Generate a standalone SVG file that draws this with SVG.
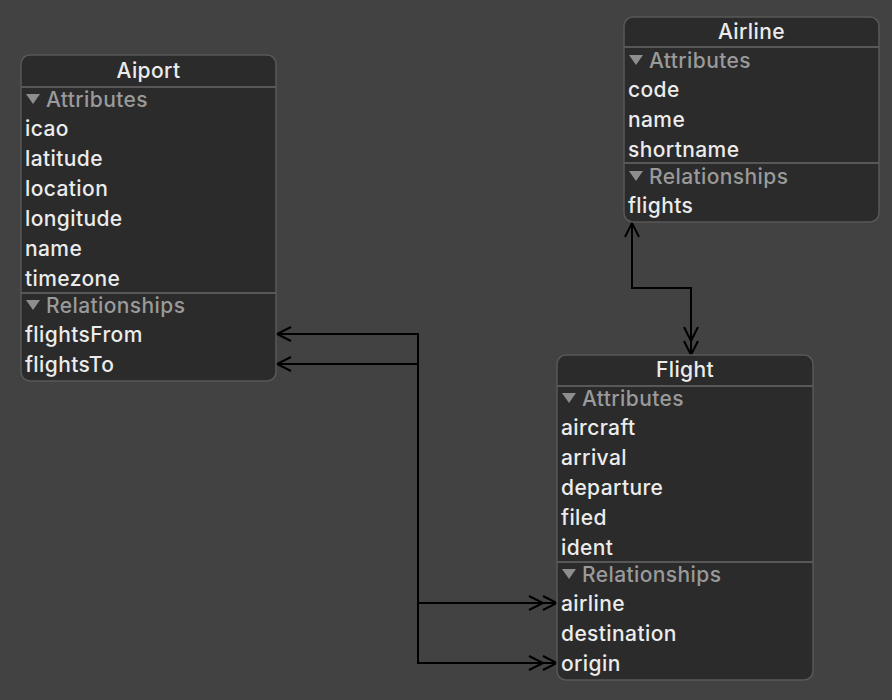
<svg xmlns="http://www.w3.org/2000/svg" width="892" height="700" viewBox="0 0 892 700">
<style>
.box{fill:#2b2b2b;stroke:#585858;stroke-width:1.5}
.sep{stroke:#585858;stroke-width:2}
.t{font-family:Inter,"Open Sans",sans-serif;font-size:21px;letter-spacing:0.4px;font-weight:500;fill:#ececec}
.h{font-family:Inter,"Open Sans",sans-serif;font-size:21px;letter-spacing:0.4px;font-weight:500;fill:#9a9a9a}
.tri{fill:#8e8e8e}
.ti{font-family:Inter,"Open Sans",sans-serif;font-size:21px;letter-spacing:0.4px;font-weight:500;fill:#ececec;text-anchor:middle}
.c{fill:none;stroke:#000;stroke-width:2}
</style>
<defs>
<path id="disc" class="tri" d="M0,0 H14 L7,10 Z"/>
<marker id="one" viewBox="0 0 20 16" refX="15" refY="8" markerWidth="20" markerHeight="16" markerUnits="userSpaceOnUse" orient="auto-start-reverse">
<path d="M1,1 L15,8 L1,15" fill="none" stroke="#000" stroke-width="2"/>
</marker>
<marker id="two" viewBox="0 0 30 16" refX="29" refY="8" markerWidth="30" markerHeight="16" markerUnits="userSpaceOnUse" orient="auto">
<path d="M1,1 L15,8 L1,15 M15,1 L29,8 L15,15" fill="none" stroke="#000" stroke-width="2"/>
</marker>
</defs>
<rect width="892" height="700" fill="#424242"/>
<g id="connectors">
<path class="c" d="M632,223 V288 H691 V355" marker-start="url(#one)" marker-end="url(#two)"/>
<path class="c" d="M277,334 H418 V663 H557" marker-start="url(#one)" marker-end="url(#two)"/>
<path class="c" d="M277,364 H418 V603 H557" marker-start="url(#one)" marker-end="url(#two)"/>
</g>
<g id="airport">
<rect class="box" x="21" y="55" width="255" height="326" rx="9"/>
<line class="sep" x1="21" y1="87" x2="276" y2="87"/>
<line class="sep" x1="21" y1="293" x2="276" y2="293"/>
<text class="ti" x="148.5" y="78">Aiport</text>
<use href="#disc" x="26" y="94"/>
<text class="h" x="46" y="107">Attributes</text>
<text class="t" x="25" y="136">icao</text>
<text class="t" x="25" y="166">latitude</text>
<text class="t" x="25" y="196">location</text>
<text class="t" x="25" y="226">longitude</text>
<text class="t" x="25" y="256">name</text>
<text class="t" x="25" y="286">timezone</text>
<use href="#disc" x="26" y="300"/>
<text class="h" x="46" y="313">Relationships</text>
<text class="t" x="25" y="342">flightsFrom</text>
<text class="t" x="25" y="372">flightsTo</text>
</g>
<g id="airline">
<rect class="box" x="624" y="17" width="255" height="205" rx="9"/>
<line class="sep" x1="624" y1="47" x2="879" y2="47"/>
<line class="sep" x1="624" y1="163" x2="879" y2="163"/>
<text class="ti" x="751.5" y="39">Airline</text>
<use href="#disc" x="629" y="55"/>
<text class="h" x="649" y="68">Attributes</text>
<text class="t" x="628" y="97">code</text>
<text class="t" x="628" y="127">name</text>
<text class="t" x="628" y="157">shortname</text>
<use href="#disc" x="629" y="171"/>
<text class="h" x="649" y="184">Relationships</text>
<text class="t" x="628" y="213">flights</text>
</g>
<g id="flight">
<rect class="box" x="557" y="355" width="256" height="325" rx="9"/>
<line class="sep" x1="557" y1="386" x2="813" y2="386"/>
<line class="sep" x1="557" y1="562" x2="813" y2="562"/>
<text class="ti" x="685" y="377">Flight</text>
<use href="#disc" x="562" y="393"/>
<text class="h" x="582" y="406">Attributes</text>
<text class="t" x="561" y="435">aircraft</text>
<text class="t" x="561" y="465">arrival</text>
<text class="t" x="561" y="495">departure</text>
<text class="t" x="561" y="525">filed</text>
<text class="t" x="561" y="555">ident</text>
<use href="#disc" x="562" y="569"/>
<text class="h" x="582" y="582">Relationships</text>
<text class="t" x="561" y="611">airline</text>
<text class="t" x="561" y="641">destination</text>
<text class="t" x="561" y="671">origin</text>
</g>
</svg>
